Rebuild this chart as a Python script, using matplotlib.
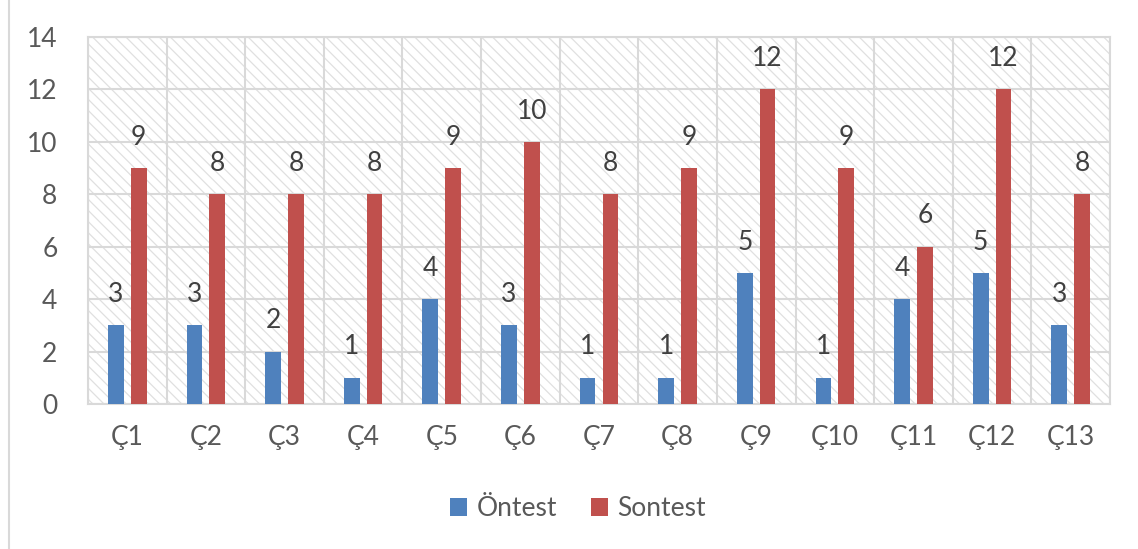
import matplotlib
matplotlib.use("Agg")
import matplotlib.pyplot as plt
import numpy as np
from matplotlib.patches import Rectangle

categories = ["Ç1", "Ç2", "Ç3", "Ç4", "Ç5", "Ç6", "Ç7", "Ç8", "Ç9", "Ç10", "Ç11", "Ç12", "Ç13"]
ontest = [3, 3, 2, 1, 4, 3, 1, 1, 5, 1, 4, 5, 3]
sontest = [9, 8, 8, 8, 9, 10, 8, 9, 12, 9, 6, 12, 8]
yticks = [0, 2, 4, 6, 8, 10, 12, 14]

plt.rcParams['font.family'] = ['Lato', 'DejaVu Sans']
plt.rcParams['hatch.linewidth'] = 0.9
plt.rcParams['hatch.color'] = '#e0e0e0'

fig = plt.figure(figsize=(11.38, 5.49), dpi=100)
ax = fig.add_axes([0.0773, 0.2641, 0.8981, 0.6685])

grid_c = '#d9d9d9'
txt_c = '#595959'
fs = 19

# hatched background
bg = Rectangle((0, 0), 1, 1, transform=ax.transAxes, facecolor='white',
               edgecolor='#e0e0e0', hatch='\\\\\\', linewidth=0, zorder=0)
ax.add_patch(bg)
ax.set_facecolor('white')

x = np.arange(len(categories))
w = 0.2
off = 0.145
b1 = ax.bar(x - off, ontest, w, color='#4F81BD', label='Öntest', zorder=3)
b2 = ax.bar(x + off, sontest, w, color='#C0504D', label='Sontest', zorder=3)

for bars, vals in ((b1, ontest), (b2, sontest)):
    for rect, v in zip(bars, vals):
        ax.text(rect.get_x() + rect.get_width() / 2, v + 0.7, str(v), ha='center', va='bottom',
                fontsize=fs, color='#404040', zorder=4)

ax.set_xlim(-0.5, len(categories) - 0.5)
ax.set_ylim(0, 14)
ax.set_yticks(yticks)
ax.set_xticks(x)
ax.set_xticklabels(categories)
for b in np.arange(-0.5, len(categories), 1.0):
    ax.axvline(b, color=grid_c, linewidth=1.5, zorder=1)
for yv in yticks:
    ax.axhline(yv, color=grid_c, linewidth=1.5, zorder=1)

ax.tick_params(axis='both', length=0, labelsize=fs, colors=txt_c)
ax.tick_params(axis='x', pad=15)
ax.tick_params(axis='y', pad=22)
for s in ax.spines.values():
    s.set_color(grid_c)
    s.set_linewidth(1.5)

leg = fig.legend(handles=[b1, b2], labels=['Öntest', 'Sontest'], loc='center',
                 bbox_to_anchor=(0.508, 0.073), ncol=2, frameon=False, fontsize=fs,
                 handlelength=0.65, handleheight=0.65, handletextpad=0.35, columnspacing=1.3)
for t in leg.get_texts():
    t.set_color(txt_c)

# outer chart border
fig.add_artist(Rectangle((0.008, -0.01), 1.5, 1.5, transform=fig.transFigure,
                         fill=False, edgecolor='#d9d9d9', linewidth=1.5))

fig.savefig('out.png', dpi=100)
